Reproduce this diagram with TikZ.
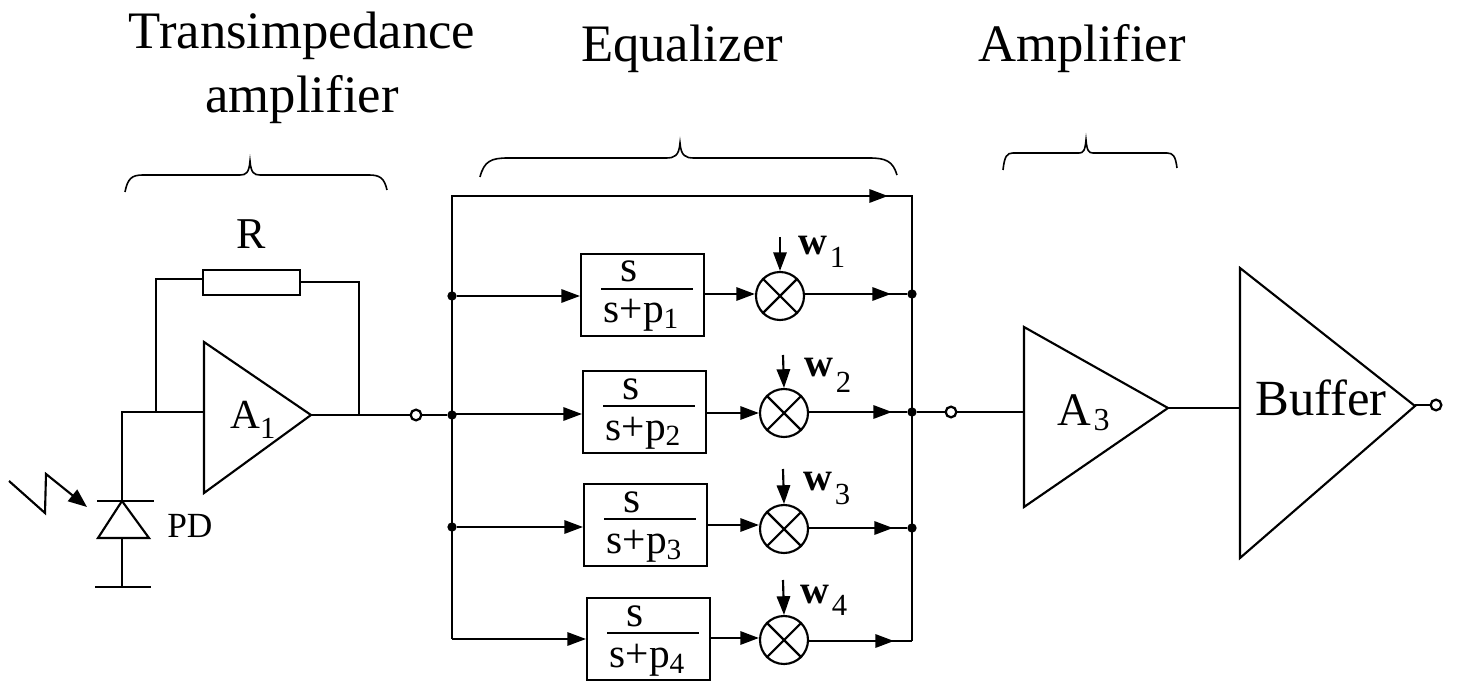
\documentclass[tikz,border=0pt]{standalone}
\usepackage{fontspec}
\setmainfont{Liberation Serif}
\usetikzlibrary{arrows.meta,calc}
\tikzset{
  x=0.75pt,y=-0.75pt,
  wire/.style={draw=black,line width=1.6pt},
  arr/.style={wire,-{Triangle[length=14pt,width=10pt,sep=0pt]}},
  tfbox/.style={draw=black,line width=1.6pt,minimum width=92pt,minimum height=61.5pt,inner sep=0pt,anchor=north west},
  mult/.style={circle,draw=black,line width=1.6pt,minimum size=36pt,inner sep=0pt},
  dotn/.style={circle,fill=black,minimum size=7pt,inner sep=0pt},
  term/.style={circle,draw=black,fill=white,line width=1.7pt,minimum size=8pt,inner sep=0pt},
  title/.style={font=\fontsize{39.5pt}{48pt}\selectfont,align=center,inner sep=0pt},
  lab/.style={font=\fontsize{31pt}{34pt}\selectfont,inner sep=0pt},
  wlab/.style={font=\fontsize{30pt}{34pt}\selectfont\bfseries,inner sep=0pt,anchor=base west},
}
\newcommand{\subn}[2]{\raisebox{#1}{\fontsize{23pt}{24pt}\selectfont\mdseries\kern2pt #2}}
% x1 y1 xpeak yline ypeak x2 y2 shoulder neck
\newcommand{\brc}[9]{%
 \draw[line width=1.2pt] (#1,#2) .. controls (#1+#8*0.15,#4+3) and (#1+#8*0.4,#4) .. (#1+#8,#4) -- (#3-#9,#4) .. controls (#3-#9*0.4,#4) and (#3-1,#4-2) .. (#3,#5) .. controls (#3+1,#4-2) and (#3+#9*0.4,#4) .. (#3+#9,#4) -- (#6-#8,#4) .. controls (#6-#8*0.4,#4) and (#6-#8*0.15,#4+3) .. (#6,#7);}
\begin{document}
\begin{tikzpicture}
\useasboundingbox (0,0) rectangle (1457,684);
% titles
\node[title] (t1) at (302,68) {Transimpedance\\amplifier};
\node[title] (t2) at (682,49) {Equalizer};
\node[title] (t3) at (1082,49) {Amplifier};
% braces
\brc{125}{192}{250}{175}{161}{387}{190}{18}{10}
\brc{480}{177}{680}{158}{143}{897}{175}{28}{14}
\brc{1003}{170}{1086}{153}{140}{1177}{168}{10}{7}
% TIA
\coordinate (a1t) at (204,342);
\coordinate (a1b) at (204,493);
\coordinate (a1o) at (311,415);
\draw[wire,line join=miter] (a1t) -- (a1o) -- (a1b) -- cycle;
\node[lab,anchor=base west] (a1l) at (230,428) {A\raisebox{-7.5pt}{\fontsize{23pt}{24pt}\selectfont 1}};
\node[draw=black,line width=1.6pt,minimum width=72.5pt,minimum height=19pt,inner sep=0pt,anchor=north west] (r) at (202,269) {};
\node[anchor=base,inner sep=0pt,font=\fontsize{33pt}{36pt}\selectfont] (rl) at (251,249) {R};
\coordinate (in1) at (204,412);
\coordinate (j1) at (156,412);
\coordinate (dt) at (122,501);
\node[term] (o1) at (416,415) {};
\node[dotn] (n2) at (452,415) {};
\draw[wire] (dt) -- (122,412) -- (in1);
\draw[wire] (j1) -- (156,279) -- (r.west|-0,279);
\draw[wire] (r.east|-0,282) -- (359,282) -- (359,415);
\draw[wire] (a1o) -- (o1) -- (n2);
% diode
\draw[wire] (97,501) -- (154,501);
\draw[wire,line join=miter] (122,501) -- (98,538) -- (149,538) -- cycle;
\draw[wire] (122,538) -- (122,587);
\draw[wire] (95,587) -- (151,587);
\node[anchor=base west,inner sep=0pt,font=\fontsize{26.5pt}{30pt}\selectfont] (pd) at (167,537) {PD};
\coordinate (z1) at (9,481);
\coordinate (z2) at (45,513);
\coordinate (z3) at (46,474);
\coordinate (z4) at (87,507);
\draw[wire,-{Triangle[length=14pt,width=11pt]}] (z1) -- (z2) -- (z3) -- (z4);
% equalizer rails
\node[dotn] (n1) at (452,296) {};
\node[dotn] (n3) at (452,527) {};
\node[dotn] (m1) at (912,294) {};
\node[dotn] (m2) at (912,412) {};
\node[dotn] (m3) at (912,528) {};
\coordinate (tl) at (452,196);
\coordinate (tr) at (912,196);
\coordinate (bl) at (452,639);
\coordinate (br) at (912,641);
\draw[wire] (bl) -- (tl) -- (tr) -- (br);
\draw[arr] (tl) -- (888,196);
% row 1
\node[tfbox] (b1) at (580,253) {};
\node[mult] (x1) at (780,296) {};
\draw[arr] (n1) -- (b1.west|-0,296);
\draw[arr] (b1.east|-0,294) -- (x1.west|-0,294);
\draw[wire] (x1.east|-0,294) -- (m1);
\draw[arr] (x1.east|-0,294) -- (891,294);
\coordinate (w1s) at (780,237);
\draw[arr] (w1s) -- (x1.north);
\node[wlab] (w1) at (798,255) {w\subn{-9.75pt}{1}};
% row 2
\node[tfbox] (b2) at (582,370) {};
\node[mult] (x2) at (784,413) {};
\draw[arr] (n2|-0,414) -- (b2.west|-0,414);
\draw[arr] (b2.east|-0,413) -- (x2.west|-0,413);
\draw[wire] (x2.east|-0,412) -- (m2);
\draw[arr] (x2.east|-0,412) -- (892,412);
\coordinate (w2s) at (783,355);
\draw[arr] (w2s) -- (x2.north);
\node[wlab] (w2) at (804,377) {w\subn{-12pt}{2}};
% row 3
\node[tfbox] (b3) at (583,483) {};
\node[mult] (x3) at (784,529) {};
\draw[arr] (n3) -- (b3.west|-0,527);
\draw[arr] (b3.east|-0,525) -- (x3.west|-0,525);
\draw[wire] (x3.east|-0,528) -- (m3);
\draw[arr] (x3.east|-0,528) -- (893,528);
\coordinate (w3s) at (783,469);
\draw[arr] (w3s) -- (x3.north);
\node[wlab] (w3) at (803,490) {w\subn{-10.5pt}{3}};
% row 4
\node[tfbox] (b4) at (586,597) {};
\node[mult] (x4) at (784,640) {};
\draw[arr] (bl) -- (b4.west|-0,639);
\draw[arr] (b4.east|-0,638) -- (x4.west|-0,638);
\draw[wire] (x4.east|-0,641) -- (br);
\draw[arr] (x4.east|-0,641) -- (894,641);
\coordinate (w4s) at (783,580);
\draw[arr] (w4s) -- (x4.north);
\node[wlab] (w4) at (800,603) {w\subn{-9pt}{4}};
% multiplier crosses
\foreach \m in {x1,x2,x3,x4}{
  \draw[wire] (\m.45) -- (\m.225);
  \draw[wire] (\m.135) -- (\m.315);
}
% fractions
\foreach \b/\n in {b1/1,b2/2,b3/3,b4/4}{
  \coordinate (c) at ($(\b.north west)+(67,36)$);
  \draw[wire] ($(c)+(-46,0)$) -- ($(c)+(46,0)$);
  \node[anchor=base,inner sep=0pt,font=\fontsize{33pt}{36pt}\selectfont] (s\n) at ($(c)+(-18,-7)$) {s};
  \node[lab,anchor=base] (f\n) at ($(c)+(-6,34)$) {s+p\raisebox{-4.5pt}{\fontsize{22pt}{24pt}\selectfont \n}};
}
% output
\node[term] (o2) at (951,412) {};
\draw[wire] (m2) -- (o2);
\coordinate (a3t) at (1024,327);
\coordinate (a3b) at (1024,507);
\coordinate (a3o) at (1168,408);
\draw[wire,line join=miter] (a3t) -- (a3o) -- (a3b) -- cycle;
\draw[wire] (o2) -- (1024,412);
\node[anchor=base west,inner sep=0pt,font=\fontsize{35pt}{40pt}\selectfont] (a3l) at (1057,425) {A\raisebox{-4.5pt}{\fontsize{24pt}{26pt}\selectfont\kern2pt 3}};
\coordinate (bt) at (1240,268);
\coordinate (bb) at (1240,558);
\coordinate (bo) at (1415,406);
\draw[wire,line join=miter] (bt) -- (bo) -- (bb) -- cycle;
\draw[wire] (a3o) -- (1240,408);
\node[anchor=base west,inner sep=0pt,font=\fontsize{38pt}{40pt}\selectfont] (bl2) at (1255,415) {Buffer};
\node[term] (o3) at (1436,405) {};
\draw[wire] (bo|-0,405) -- (o3);
\end{tikzpicture}
\end{document}
